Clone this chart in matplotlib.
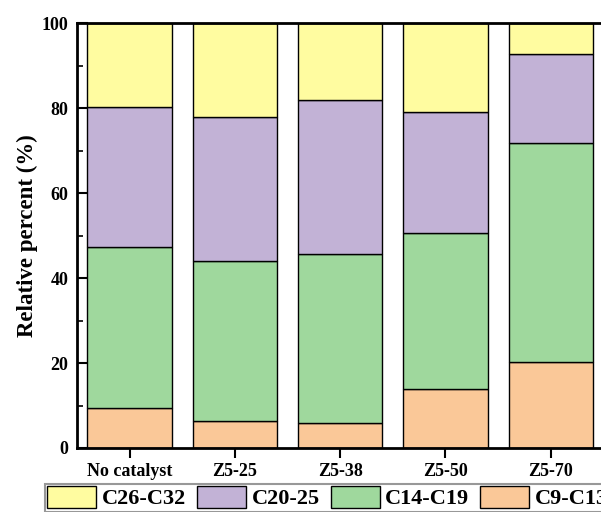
import numpy as np
import matplotlib
matplotlib.use("Agg")
import matplotlib.pyplot as plt
from matplotlib.ticker import MultipleLocator

plt.rcParams['font.family'] = ['Liberation Serif', 'DejaVu Serif']
plt.rcParams['font.weight'] = 'bold'

# catalyst samples and product distribution (%)
samples = ['No catalyst', 'Z5-25', 'Z5-38', 'Z5-50', 'Z5-70']
c9_c13 = np.array([9.3, 6.4, 6.0, 13.8, 20.3])
c14_c19 = np.array([38.0, 37.7, 39.7, 36.9, 51.5])
c20_25 = np.array([32.9, 33.9, 36.2, 28.4, 21.0])
c26_c32 = 100.0 - (c9_c13 + c14_c19 + c20_25)

labels = ['C26-C32', 'C20-25', 'C14-C19', 'C9-C13']
colors = ['#FFFCA0', '#C2B2D6', '#9FD89D', '#FAC898']

fig = plt.figure(figsize=(6.01, 5.12), dpi=100)
ax = fig.add_axes([0.128, 0.125, 0.876, 0.830])

x = np.arange(len(samples))
w = 0.8
stack = [c9_c13, c14_c19, c20_25, c26_c32]
bottom = np.zeros(len(samples))
handles = []
for vals, col in zip(stack, colors[::-1]):
    b = ax.bar(x, vals, w, bottom=bottom, color=col, edgecolor='black', linewidth=1.0)
    handles.append(b)
    bottom = bottom + vals

ax.set_xlim(-0.5, 4.5)
ax.set_ylim(0, 100)
ax.set_xticks(x)
ax.set_xticklabels(samples, fontsize=13, fontweight='bold')
ax.yaxis.set_major_locator(MultipleLocator(20))
ax.yaxis.set_minor_locator(MultipleLocator(10))
ax.tick_params(axis='y', which='major', direction='in', length=8, width=1.5, labelsize=13, pad=6)
ax.tick_params(axis='y', which='minor', direction='in', length=4, width=1.2)
ax.tick_params(axis='x', which='major', direction='out', length=7, width=1.5, labelsize=13)
for lab in ax.get_yticklabels():
    lab.set_fontweight('bold')
for sp in ax.spines.values():
    sp.set_linewidth(2.0)

ax.set_ylabel('Relative percent (%)', fontsize=16.5, fontweight='bold', labelpad=3)

leg = fig.legend(handles[::-1], labels, loc='upper left', bbox_to_anchor=(45 / 601, 1 - 484 / 512),
                 ncol=4, frameon=True, fancybox=False, edgecolor='#7f7f7f',
                 prop={'size': 16, 'weight': 'bold'}, handlelength=2.2, handleheight=1.1,
                 handletextpad=0.25, columnspacing=0.5, borderpad=0.1, borderaxespad=0)
leg.get_frame().set_linewidth(1.5)

fig.savefig('out.png', dpi=100)
